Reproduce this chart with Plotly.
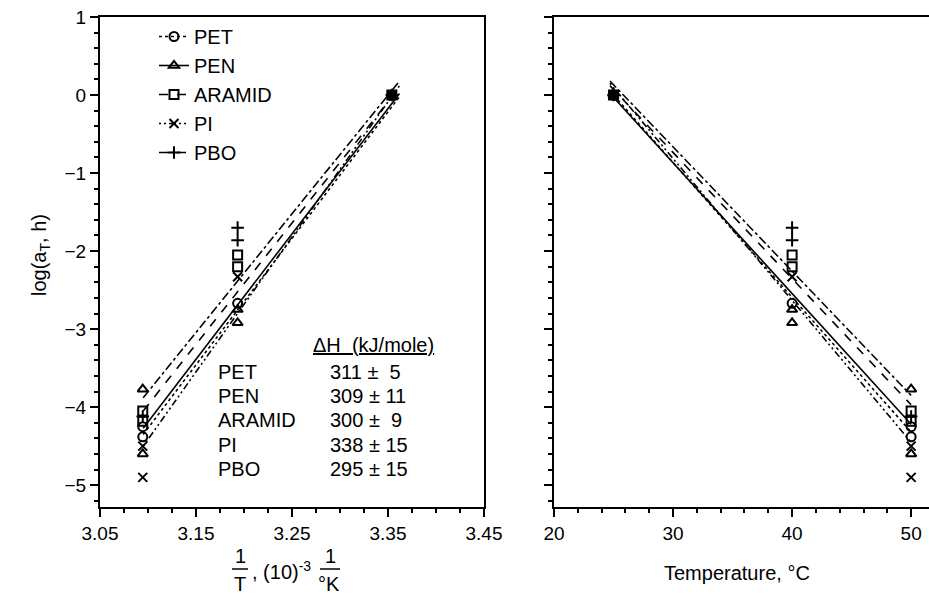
import plotly.graph_objects as go

# ---------------- data ----------------
series = ["PET", "PEN", "ARAMID", "PI", "PBO"]
temps_PET = [25, 40, 50, 50]
logaT_PET = [0.0, -2.67, -4.25, -4.38]
temps_PEN = [25, 40, 40, 50, 50]
logaT_PEN = [0.0, -2.75, -2.92, -3.77, -4.60]
temps_ARAMID = [25, 40, 40, 50, 50]
logaT_ARAMID = [0.0, -2.05, -2.20, -4.05, -4.18]
temps_PI = [25, 40, 50, 50]
logaT_PI = [0.0, -2.33, -4.50, -4.90]
temps_PBO = [25, 40, 40, 50]
logaT_PBO = [0.0, -1.70, -1.86, -4.12]

# fitted lines (end points)
fit_invT = [3.095, 3.362]
fit_left = {"PET": [-4.35, -0.02], "PEN": [-4.27, 0.02], "ARAMID": [-4.05, 0.10],
            "PI": [-4.50, 0.12], "PBO": [-3.88, 0.18]}
fit_T = [24.7, 50]
fit_right = {"PET": [0.05, -4.32], "PEN": [0.02, -4.22], "ARAMID": [0.12, -3.97],
             "PI": [0.15, -4.45], "PBO": [0.18, -3.85]}

dH_values = ["311 \u00b1  5", "309 \u00b1 11", "300 \u00b1  9", "338 \u00b1 15", "295 \u00b1 15"]

temps = {"PET": temps_PET, "PEN": temps_PEN, "ARAMID": temps_ARAMID, "PI": temps_PI, "PBO": temps_PBO}
logs = {"PET": logaT_PET, "PEN": logaT_PEN, "ARAMID": logaT_ARAMID, "PI": logaT_PI, "PBO": logaT_PBO}

# ---------------- styles ----------------
symbols = {"PET": "circle-open", "PEN": "triangle-up-open", "ARAMID": "square-open",
           "PI": "x-thin-open", "PBO": "cross-thin-open"}
dashes = {"PET": "dot", "PEN": "solid", "ARAMID": "dash",
          "PI": "2px,3px,2px,3px,7px,3px", "PBO": "dashdot"}
FONT = "Liberation Sans, Arial, sans-serif"
FS = 20
W, H = 929, 605
ML, MR, MT, MB = 100, 0, 17, 98
PW, PH = W - ML - MR, H - MT - MB


def px(x):
    return (x - ML) / PW


def py(y):
    return (H - MB - y) / PH


fig = go.Figure()

for s in series:
    invT = [1000.0 / (t + 273.15) for t in temps[s]]
    mk = dict(symbol=symbols[s], size=9, color="black", line=dict(width=2, color="black"))
    # left panel
    fig.add_trace(go.Scatter(x=invT, y=logs[s], mode="markers", marker=mk,
                             xaxis="x", yaxis="y", showlegend=False))
    fig.add_trace(go.Scatter(x=fit_invT, y=fit_left[s], mode="lines",
                             line=dict(color="black", width=1.6, dash=dashes[s]),
                             xaxis="x", yaxis="y", showlegend=False))
    # right panel
    fig.add_trace(go.Scatter(x=temps[s], y=logs[s], mode="markers", marker=mk,
                             xaxis="x2", yaxis="y2", showlegend=False))
    fig.add_trace(go.Scatter(x=fit_T, y=fit_right[s], mode="lines",
                             line=dict(color="black", width=1.6, dash=dashes[s]),
                             xaxis="x2", yaxis="y2", showlegend=False))
    # legend entry
    fig.add_trace(go.Scatter(x=[None], y=[None], mode="lines+markers", name=s,
                             legendgroup=s,
                             marker=dict(symbol=symbols[s], size=9, color="black",
                                         line=dict(width=2, color="black")),
                             line=dict(color="black", width=1.6, dash=dashes[s]),
                             xaxis="x", yaxis="y"))

axis_common = dict(showgrid=False, zeroline=False, showline=True, linecolor="black",
                   linewidth=2, ticks="outside", ticklen=8, tickwidth=1.5, tickcolor="black",
                   automargin=False,
                   tickfont=dict(family=FONT, size=19, color="black"))

fig.update_layout(
    width=W, height=H, margin=dict(l=ML, r=MR, t=MT, b=MB, autoexpand=False),
    paper_bgcolor="white", plot_bgcolor="white",
    font=dict(family=FONT, color="black"),
    xaxis=dict(axis_common, domain=[0, 384 / PW], range=[3.05, 3.45], tick0=3.05, dtick=0.1,
               tickformat=".2f", mirror=True, anchor="y",
               minor=dict(dtick=0.025, ticklen=4, ticks="outside", tickcolor="black")),
    yaxis=dict(axis_common, domain=[0, 1], range=[-5.28, 1], dtick=1, mirror=True, anchor="x",
               minor=dict(dtick=0.2, ticklen=4, ticks="outside", tickcolor="black")),
    xaxis2=dict(axis_common, domain=[(554 - ML) / PW, 1], range=[20, 51.5], dtick=10,
                mirror=True, anchor="y2",
                minor=dict(dtick=2, ticklen=4, ticks="outside", tickcolor="black")),
    yaxis2=dict(axis_common, domain=[0, 1], range=[-5.28, 1], dtick=1, anchor="x2",
                showticklabels=False,
                minor=dict(dtick=0.2, ticklen=4, ticks="outside", tickcolor="black")),
    legend=dict(x=px(154), y=py(17), xanchor="left", yanchor="top",
                bgcolor="rgba(0,0,0,0)", font=dict(family=FONT, size=FS, color="black"),
                tracegroupgap=0),
)


def text_ann(text, x, y, xanchor="center", **kw):
    return dict(text=text, x=px(x), y=py(y), xref="paper", yref="paper", showarrow=False,
                xanchor=xanchor, yanchor="middle", font=dict(size=FS), **kw)


ann = []
# y-axis title
ann.append(text_ann("log(a<sub>T</sub>, h)", 40, 255, textangle=-90))
# right x-axis title
ann.append(text_ann("Temperature, \u00b0C", 737, 573))
# left x-axis title (fractions)
ann.append(text_ann("1", 240, 556))
ann.append(text_ann("T", 240, 584))
ann.append(text_ann(", (10)<sup>-3</sup>", 250, 570, xanchor="left"))
ann.append(text_ann("1", 330, 556))
ann.append(text_ann("\u00b0K", 329, 584))
# table
ann.append(text_ann("<u>\u0394H  (kJ/mole)</u>", 311, 345, xanchor="left"))
row_y = [372, 396, 420, 445, 469]
for s, v, yy in zip(series, dH_values, row_y):
    ann.append(text_ann(s, 216, yy, xanchor="left"))
    ann.append(text_ann(v.replace("  ", "&nbsp;&nbsp;"), 328, yy, xanchor="left"))
fig.update_layout(annotations=ann)

shapes = [
    dict(type="line", xref="paper", yref="paper", x0=px(232), x1=px(248), y0=py(569), y1=py(569),
         line=dict(color="black", width=1.5)),
    dict(type="line", xref="paper", yref="paper", x0=px(320), x1=px(340), y0=py(569), y1=py(569),
         line=dict(color="black", width=1.5)),
]
fig.update_layout(shapes=shapes)

fig.write_html("out.html")
